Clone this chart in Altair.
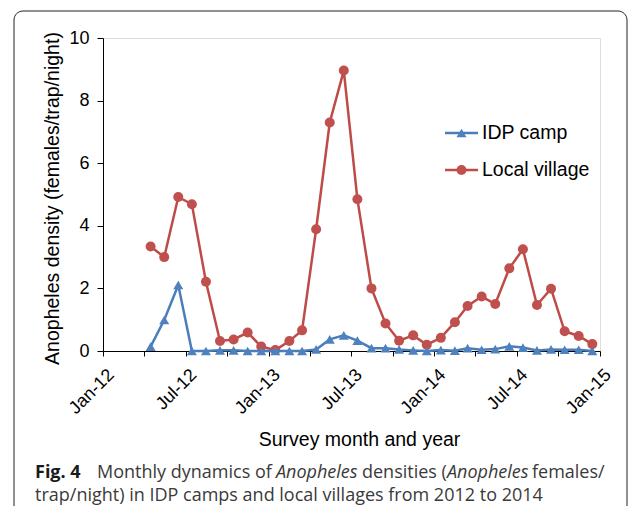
import altair as alt
import pandas as pd

# ---------------- data ----------------
months = [
    "2012-04", "2012-05", "2012-06", "2012-07", "2012-08", "2012-09", "2012-10", "2012-11", "2012-12",
    "2013-01", "2013-02", "2013-03", "2013-04", "2013-05", "2013-06", "2013-07", "2013-08", "2013-09",
    "2013-10", "2013-11", "2013-12", "2014-01", "2014-02", "2014-03", "2014-04", "2014-05", "2014-06",
    "2014-07", "2014-08", "2014-09", "2014-10", "2014-11", "2014-12",
]
idp_camp = [0.14, 0.99, 2.11, 0.0, 0.0, 0.02, 0.02, 0.0, 0.0,
            0.0, 0.0, 0.0, 0.05, 0.37, 0.50, 0.33, 0.09, 0.09,
            0.05, 0.02, 0.0, 0.03, 0.01, 0.09, 0.04, 0.06, 0.15,
            0.11, 0.02, 0.05, 0.04, 0.04, 0.0]
local_village = [3.34, 3.00, 4.92, 4.69, 2.21, 0.32, 0.37, 0.59, 0.14,
                 0.03, 0.32, 0.66, 3.89, 7.30, 8.96, 4.85, 2.00, 0.88,
                 0.33, 0.50, 0.20, 0.42, 0.92, 1.44, 1.74, 1.50, 2.64,
                 3.25, 1.47, 1.99, 0.63, 0.48, 0.22]
series_names = ["IDP camp", "Local village"]
y_ticks = [0, 2, 4, 6, 8, 10]
x_title = "Survey month and year"
y_title = "Anopheles density (females/trap/night)"
caption_line1 = [("Fig. 4", "bold", "normal"),
                 ("Monthly dynamics of", "normal", "normal"),
                 ("Anopheles", "normal", "italic"),
                 ("densities (", "normal", "normal"),
                 ("Anopheles", "normal", "italic"),
                 ("females/", "normal", "normal")]
caption_line2 = "trap/night) in IDP camps and local villages from 2012 to 2014"

# ---------------- style ----------------
line_colors = ["#4A7EBB", "#BE4B48"]
marker_colors = ["#4F81BD", "#C0504D"]
shapes = ["triangle-up", "circle"]
W, H = 497, 313
FONT = "Liberation Sans"

rows = []
for name, vals in zip(series_names, [idp_camp, local_village]):
    for m, v in zip(months, vals):
        rows.append({"series": name, "date": m + "-15", "value": v})
df = pd.DataFrame(rows)

tick_dates = [alt.DateTime(year=y, month=mo, date=1, utc=True)
              for y in (2012, 2013, 2014) for mo in (1, 4, 7, 10)] + \
             [alt.DateTime(year=2015, month=1, date=1, utc=True)]

x_enc = alt.X(
    "date:T",
    scale=alt.Scale(type="utc",
                    domain=[alt.DateTime(year=2012, month=1, date=1, utc=True),
                            alt.DateTime(year=2015, month=1, date=1, utc=True)]),
    axis=alt.Axis(values=tick_dates,
                  labelExpr="utcmonth(datum.value) % 6 == 0 ? utcFormat(datum.value, '%b-%y') : ''",
                  labelAngle=-45, labelAlign="right", labelBaseline="middle",
                  labelOffset=8, labelPadding=16, labelFontSize=18, labelFont=FONT,
                  labelColor="#000", tickSize=5, tickColor="#000", domainColor="#000",
                  grid=False, title=x_title, titleFont=FONT, titleFontSize=19.5,
                  titleFontWeight="normal", titleColor="#000", titleX=256, titleY=94,
                  titleBaseline="alphabetic", labelOverlap=False, labelBound=False,
                  labelFlush=False),
)
y_enc = alt.Y(
    "value:Q",
    scale=alt.Scale(domain=[0, 10], nice=False, zero=True),
    axis=alt.Axis(values=y_ticks, labelFontSize=18, labelFont=FONT, labelColor="#000",
                  tickSize=6, tickColor="#000", domainColor="#000", labelPadding=8,
                  grid=False, title=y_title, titleFont=FONT, titleFontSize=19.5,
                  titleFontWeight="normal", titleColor="#000", titleX=-45, titleY=160,
                  titleBaseline="alphabetic", titleAngle=-90),
)

layers = []
for i in (1, 0):  # village first, IDP on top
    sub = alt.Chart(df).transform_filter(alt.datum.series == series_names[i])
    layers.append(sub.mark_line(color=line_colors[i], strokeWidth=2.5).encode(x=x_enc, y=y_enc))
    layers.append(sub.mark_point(shape=shapes[i], filled=True, opacity=1,
                                 color=marker_colors[i], size=100).encode(x=x_enc, y=y_enc))

one = pd.DataFrame({"k": [0]})

# legend (manual, inside plot)
leg_y = [95, 132]
for i in range(2):
    base = alt.Chart(one)
    layers.append(base.mark_rule(color=line_colors[i], strokeWidth=2.5).encode(
        x=alt.value(342), x2=alt.value(375), y=alt.value(leg_y[i])))
    layers.append(base.mark_point(shape=shapes[i], filled=True, opacity=1,
                                  color=marker_colors[i], size=100).encode(
        x=alt.value(358.5), y=alt.value(leg_y[i])))
    layers.append(base.mark_text(text=series_names[i], align="left", baseline="middle",
                                 font=FONT, fontSize=19.5, color="#000").encode(
        x=alt.value(379), y=alt.value(leg_y[i])))

# frame
layers.append(alt.Chart(one).mark_rect(fill="transparent", stroke="#222", strokeWidth=1,
                                      cornerRadius=9).encode(
    x=alt.value(-89), x2=alt.value(524), y=alt.value(-27), y2=alt.value(500)))

# caption
CAP_FONT = "Open Sans"
cap_y1 = 478 - 38
cap_y2 = 501 - 38
cap_x = [35, 97, 276, 362, 447, 532]
for (txt, fw, fs), xx in zip(caption_line1, cap_x):
    layers.append(alt.Chart(one).mark_text(
        text=txt, align="left", baseline="alphabetic", font=CAP_FONT, fontSize=18,
        fontWeight=fw, fontStyle=fs, color="#1a1a1a" if fw == "bold" else "#3a3a3a").encode(
        x=alt.value(xx - 103), y=alt.value(cap_y1)))
layers.append(alt.Chart(one).mark_text(
    text=caption_line2, align="left", baseline="alphabetic", font=CAP_FONT, fontSize=18,
    color="#3a3a3a").encode(x=alt.value(35 - 103), y=alt.value(cap_y2)))

chart = alt.layer(*layers).properties(
    width=W, height=H,
    autosize=alt.AutoSizeParams(type="none"),
    padding={"left": 95, "top": 30, "right": 28, "bottom": 155},
).configure_view(stroke=None).configure(background="white")

chart.save("out.html", embed_options={"renderer": "svg", "actions": False})
